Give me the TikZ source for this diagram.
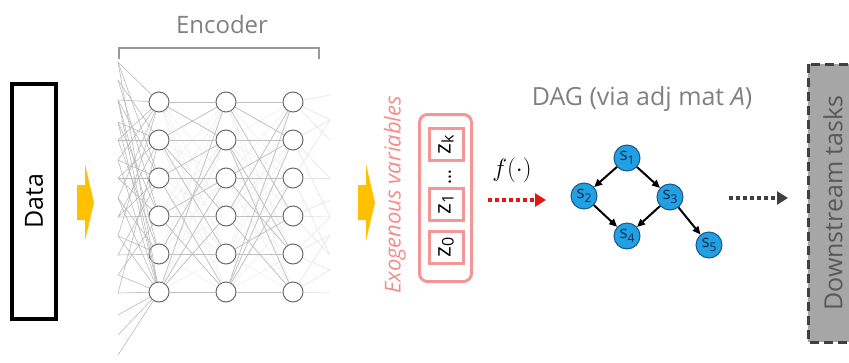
\documentclass[tikz,border=0pt]{standalone}
\usepackage{fontspec}
\setmainfont{Open Sans}
\usetikzlibrary{arrows.meta}
\definecolor{enctext}{RGB}{128,128,128}
\definecolor{yel}{RGB}{255,192,0}
\definecolor{pinkc}{RGB}{242,150,150}
\definecolor{exotext}{RGB}{245,140,140}
\definecolor{dagblue}{RGB}{33,160,226}
\definecolor{dagedge}{RGB}{25,85,140}
\definecolor{slab}{RGB}{20,40,80}
\definecolor{dsgray}{RGB}{166,166,166}
\definecolor{dsedge}{RGB}{64,64,64}
\definecolor{dstext}{RGB}{89,89,89}
\definecolor{neuronc}{RGB}{105,105,105}
\definecolor{fredc}{RGB}{230,20,20}
\tikzset{
  neuron/.style={circle, draw=neuronc, line width=1pt, fill=white, minimum size=20pt, inner sep=0pt},
  faint/.style={draw=gray!14, line width=0.6pt},
  midline/.style={draw=gray!50, line width=0.7pt},
  inline/.style={draw=gray!55, line width=0.6pt},
  outline/.style={draw=gray!22, line width=0.6pt},
  zbox/.style={draw=pinkc, line width=3pt, minimum width=34pt, minimum height=32pt, inner sep=0pt},
  dagnode/.style={circle, fill=dagblue, draw=dagedge, line width=1pt, minimum size=26pt, inner sep=0pt, text=slab, font=\fontsize{17}{17}\selectfont},
  dagedgestyle/.style={line width=2pt, -{Triangle[length=8pt,width=7pt]}},
  yarrow/.style={fill=yel},
}
\newcommand{\subs}[2]{#1\raisebox{-0.4ex}{\fontsize{12}{12}\selectfont #2}}
\begin{document}
\begin{tikzpicture}[x=1pt,y=-1pt]
\useasboundingbox (0,0) rectangle (849,362);

% Data box
\node[draw=black, line width=4pt, rotate=90, minimum width=235pt, minimum height=44pt, inner sep=0pt,
      font=\fontsize{25}{28}\selectfont] (data) at (34,201.5) {Data};

% yellow arrows
\fill[yarrow] (77,185) -- (85,185) -- (85,164) -- (94,202.5) -- (85,241) -- (85,220) -- (77,220) -- cycle;
\fill[yarrow] (358,185) -- (366,185) -- (366,164) -- (375,202.5) -- (366,241) -- (366,220) -- (358,220) -- cycle;

% Encoder bracket and label
\coordinate (b1) at (119,59);
\coordinate (b2) at (119,48);
\coordinate (b3) at (319,48);
\coordinate (b4) at (319,59);
\draw[draw=gray!80, line width=1.2pt] (b1) -- (b2) -- (b3) -- (b4);
\node[text=enctext, font=\fontsize{24}{28}\selectfont] (enc) at (222,24) {Encoder};

% neurons
\foreach \i/\yy in {1/102,2/140,3/178,4/216,5/254,6/292} {
  \node[neuron] (L\i) at (159,\yy) {};
  \node[neuron] (M\i) at (226,\yy) {};
  \node[neuron] (R\i) at (293,\yy) {};
}
% faint full connections
\foreach \a in {1,...,6} {
  \foreach \b in {1,...,6} {
    \draw[faint] (L\a) -- (M\b);
    \draw[faint] (M\a) -- (R\b);
  }
}
% visible connections
\foreach \a/\b in {1/1,1/2,2/1,2/2,2/4,2/5,3/3,3/2,4/4,4/6,4/3,5/5,5/2,6/1,6/3,6/6,6/4,3/6}
  \draw[midline] (L\a) -- (M\b);
\foreach \a/\b in {1/1,1/4,1/2,2/2,2/5,3/2,3/3,4/4,4/6,4/1,5/4,5/5,6/6,6/1,6/2,6/3,3/5,2/6}
  \draw[midline] (M\a) -- (R\b);

% input lines
\foreach \k/\yy in {1/62,2/80,3/100,4/122,5/140,6/160,7/178,8/198,9/217,10/236,11/255,12/275,13/293,14/315,15/335,16/355}
  \coordinate (in\k) at (118,\yy);
\foreach \k/\t in {1/1,1/3,1/6,2/2,2/4,3/1,3/3,3/5,3/6,4/2,4/4,4/6,5/1,5/2,5/5,6/3,6/6,6/1,7/2,7/3,7/4,8/1,8/5,8/6,9/4,9/2,9/3,10/1,10/5,10/6,11/3,11/5,12/6,12/4,13/6,13/2,14/6,15/6,16/6}
  \draw[inline] (in\k) -- (L\t);

% output lines
\foreach \k/\yy in {1/95,2/120,3/140,4/178,5/200,6/217,7/235,8/255,9/270,10/293}
  \coordinate (out\k) at (330,\yy);
\foreach \s/\k in {1/1,1/3,1/2,2/2,2/4,2/6,3/4,3/2,3/8,4/6,4/5,4/8,5/7,5/9,5/6,6/9,6/7,6/10}
  \draw[outline] (R\s) -- (out\k);

% Exogenous variables
\node[rotate=90, text=exotext, font=\itshape\fontsize{22}{24}\selectfont] (exolab) at (395,195) {Exogenous variables};
\node[draw=pinkc, line width=3pt, rounded corners=8pt, minimum width=52pt, minimum height=167pt, inner sep=0pt] (exobox) at (445.5,198) {};
\node[zbox] (zk) at (446,144.5) {};
\node[zbox] (z1) at (446,204.5) {};
\node[zbox] (z0) at (446,247.5) {};
\node[rotate=90, font=\fontsize{23}{24}\selectfont] at (zk) {z\raisebox{-0.25ex}{\fontsize{16}{16}\selectfont k}};
\node[rotate=90, font=\fontsize{23}{24}\selectfont] at (z1) {z\raisebox{-0.25ex}{\fontsize{16}{16}\selectfont 1}};
\node[rotate=90, font=\fontsize{23}{24}\selectfont] at (z0) {z\raisebox{-0.25ex}{\fontsize{16}{16}\selectfont 0}};
\node[rotate=90, font=\fontsize{19}{19}\selectfont, inner sep=0pt] (dots) at (450,177) {\ldots};

% f(.) and red dotted arrow
\node[font=\fontsize{26}{28}\selectfont] (flab) at (512,170) {$f(\cdot)$};
\coordinate (fa) at (488,200);
\coordinate (fb) at (546,200);
\draw[fredc, line width=4pt, dash pattern=on 4pt off 3pt, -{Triangle[length=11pt,width=13pt]}] (fa) -- (fb);

% DAG
\node[text=enctext, font=\fontsize{25}{28}\selectfont] (daglab) at (642,99) {DAG (via adj mat \textit{A})};
\node[dagnode] (s1) at (627,158) {\subs{s}{1}};
\node[dagnode] (s2) at (584,196) {\subs{s}{2}};
\node[dagnode] (s3) at (670,197) {\subs{s}{3}};
\node[dagnode] (s4) at (627,236) {\subs{s}{4}};
\node[dagnode] (s5) at (709,245) {\subs{s}{5}};
\draw[dagedgestyle] (s1) -- (s2);
\draw[dagedgestyle] (s1) -- (s3);
\draw[dagedgestyle] (s2) -- (s4);
\draw[dagedgestyle] (s3) -- (s4);
\draw[dagedgestyle] (s3) -- (s5);

% dark dotted arrow
\coordinate (da) at (729,198);
\coordinate (db) at (788,198);
\draw[dsedge, line width=4pt, dash pattern=on 4pt off 3pt, -{Triangle[length=11pt,width=13pt]}] (da) -- (db);

% Downstream tasks
\node[draw=dsedge, fill=dsgray, line width=3pt, dash pattern=on 9pt off 5pt, rotate=90,
      minimum width=278pt, minimum height=50pt, inner sep=0pt, text=dstext,
      font=\fontsize{25}{28}\selectfont] (ds) at (833,203) {Downstream tasks};
\end{tikzpicture}
\end{document}
